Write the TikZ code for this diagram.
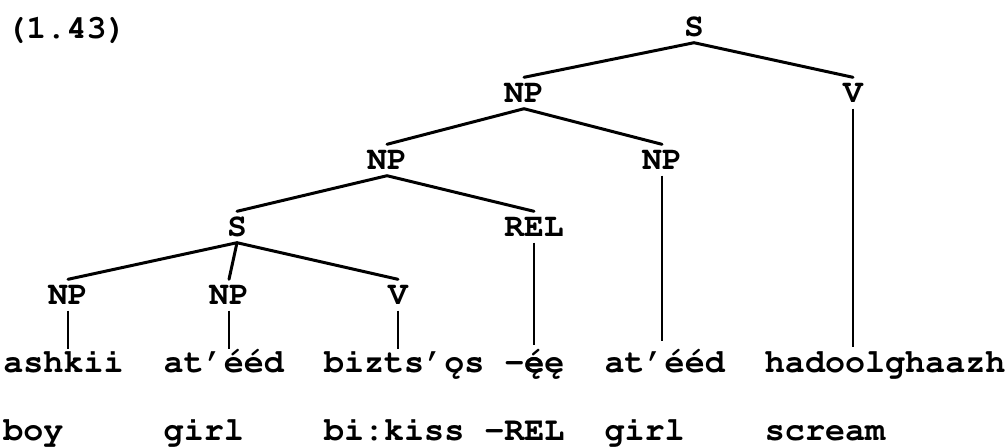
\documentclass[tikz,border=0pt]{standalone}
\usepackage[T1]{fontenc}
\newcommand{\labfont}{\fontfamily{pcr}\bfseries\fontsize{16.5pt}{17pt}\selectfont}
\newcommand{\wfont}{\fontfamily{pcr}\bfseries\fontsize{16.7pt}{17pt}\selectfont}
\newcommand{\eacog}{\rlap{\'e}\k{e}}
\begin{document}
\begin{tikzpicture}[x=0.5pt,y=-0.5pt,
  lab/.style={font=\labfont, inner xsep=0pt, inner ysep=3pt, text height=9.3pt, text depth=0pt},
  word/.style={font=\wfont, anchor=base west, inner sep=0pt},
  edge/.style={line width=1.5pt, line cap=round},
  vline/.style={line width=1.3pt}]
\useasboundingbox (0,0) rectangle (1008,447);
\def\cw{20.04}
\def\xo{3}
% title
\node[font=\wfont, anchor=base west, inner sep=0pt] (num) at (6,38) {(1.43)};
% tree labels
\node[lab] (S0) at (694,27) {S};
\node[lab] (NP1) at (524,93) {NP};
\node[lab] (V1) at (853,93) {V};
\node[lab] (NP2) at (387,160) {NP};
\node[lab] (NP3) at (662,160) {NP};
\node[lab] (S2) at (237,227) {S};
\node[lab] (REL) at (534,227) {REL};
\node[lab] (NPa) at (68,295) {NP};
\node[lab] (NPb) at (229,295) {NP};
\node[lab] (Vc) at (398,295) {V};
% words
\node[word] (w1) at ({\xo+0*\cw},372) {ashkii};
\node[word] (w2) at ({\xo+8*\cw},372) {at'\'e\'ed};
\node[word] (w3) at ({\xo+16*\cw},372) {bizts'\k{o}s};
\node[word] (w4) at ({\xo+25*\cw},372) {-\eacog{}\k{e}};
\node[word] (w5) at ({\xo+30*\cw},372) {at'\'e\'ed};
\node[word] (w6) at ({\xo+38*\cw},372) {hadoolghaazh};
% glosses
\node[word] (g1) at ({\xo+0*\cw},440) {boy};
\node[word] (g2) at ({\xo+8*\cw},440) {girl};
\node[word] (g3) at ({\xo+16*\cw},440) {bi:kiss};
\node[word] (g4) at ({\xo+24*\cw},440) {-REL};
\node[word] (g5) at ({\xo+30*\cw},440) {girl};
\node[word] (g6) at ({\xo+38*\cw},440) {scream};
% edges
\draw[edge] (S0.south) -- (NP1.north);
\draw[edge] (S0.south) -- (V1.north);
\draw[edge] (NP1.south) -- (NP2.north);
\draw[edge] (NP1.south) -- (NP3.north);
\draw[edge] (NP2.south) -- (S2.north);
\draw[edge] (NP2.south) -- (REL.north);
\draw[edge] (S2.south) -- (NPa.north);
\draw[edge] (S2.south) -- (NPb.north);
\draw[edge] (S2.south) -- (Vc.north);
% vertical lines to words
\draw[vline] (NPa.south) -- (NPa.south |- w1.north);
\draw[vline] (NPb.south) -- (NPb.south |- w2.north);
\draw[vline] (Vc.south) -- (Vc.south |- w3.north);
\draw[vline] (REL.south) -- ([yshift=2pt]REL.south |- w4.north);
\draw[vline] (NP3.south) -- ([yshift=4pt]NP3.south |- w5.north);
\draw[vline] (V1.south) -- ([yshift=2pt]V1.south |- w6.north);
\end{tikzpicture}
\end{document}
